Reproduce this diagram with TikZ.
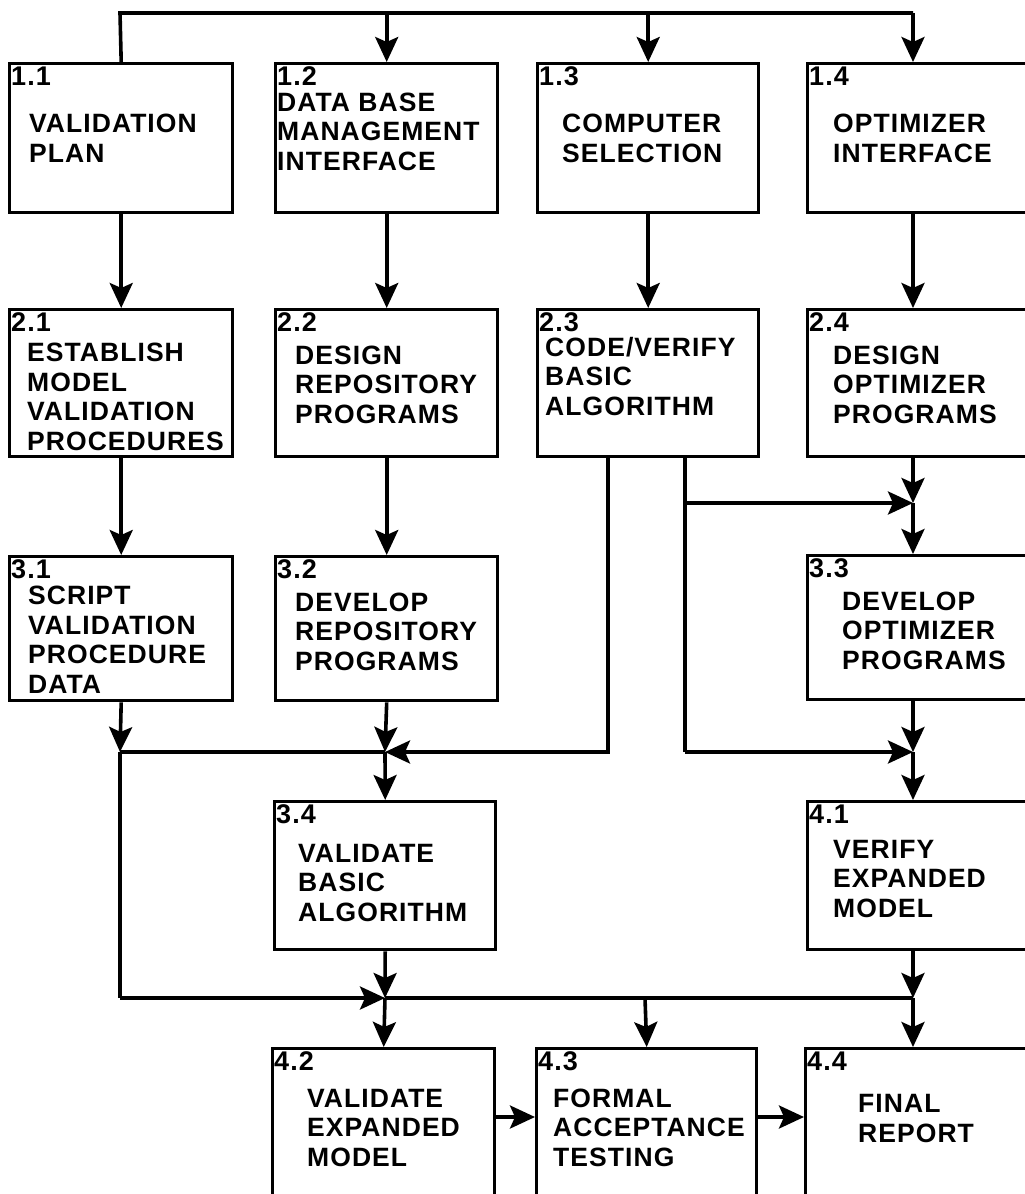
\documentclass[tikz,border=0pt]{standalone}
\usepackage{fontspec}
\setmainfont{Liberation Sans}[LetterSpace=4]
\usetikzlibrary{arrows.meta,calc}
\tikzset{
  x=1pt, y=-1pt,
  wire/.style={line width=3.6pt},
  arr/.style={wire, -{Stealth[length=25pt,width=23pt,inset=5pt]}},
  task/.style={draw, line width=3.4pt, anchor=north west, inner sep=0pt,
    minimum width=#1},
  task/.default=222pt,
  num/.style={anchor=base west, inner sep=0pt, font=\fontsize{27}{29}\selectfont\bfseries},
  % multi-line texts are placed by the baseline of their last line
  body/.style={anchor=base west, inner sep=0pt, align=left,
    font=\fontsize{26.5}{29.5}\selectfont\bfseries},
}
\begin{document}
\begin{tikzpicture}
\useasboundingbox (0,0) rectangle (1025,1194);
\clip (0,0) rectangle (1025,1194);

% ---- task boxes ----
\node[task=223pt, minimum height=149pt] (b11) at (8,62) {};
\node[task=222pt, minimum height=149pt] (b12) at (274,62) {};
\node[task=221pt, minimum height=149pt] (b13) at (536,62) {};
\node[task=240pt, minimum height=149pt] (b14) at (806,62) {};

\node[task=223pt, minimum height=147pt] (b21) at (8,308) {};
\node[task=222pt, minimum height=147pt] (b22) at (274,308) {};
\node[task=221pt, minimum height=147pt] (b23) at (536,308) {};
\node[task=240pt, minimum height=147pt] (b24) at (806,308) {};

\node[task=223pt, minimum height=144pt] (b31) at (8,555) {};
\node[task=222pt, minimum height=144pt] (b32) at (274,555) {};
\node[task=240pt, minimum height=144pt] (b33) at (806,554) {};

\node[task=221pt, minimum height=148pt] (b34) at (273,800) {};
\node[task=240pt, minimum height=148pt] (b41) at (806,800) {};

\node[task=222pt, minimum height=150pt] (b42) at (271,1047) {};
\node[task=220pt, minimum height=150pt] (b43) at (535,1047) {};
\node[task=240pt, minimum height=150pt] (b44) at (804,1047) {};

% ---- numbers ----
\foreach \b/\t in {b11/1.1,b12/1.2,b13/1.3,b14/1.4,b21/2.1,b22/2.2,b23/2.3,b24/2.4,
                   b31/3.1,b32/3.2,b33/3.3,b34/3.4,b41/4.1,b42/4.2,b43/4.3,b44/4.4}
  \node[num] (n\b) at ($(\b.north west)+(3,23)$) {\t};

% ---- texts ----
\node[body] (t11) at (29,162) {VALIDATION\\PLAN};
\node[body] (t12) at (277,170) {DATA BASE\\MANAGEMENT\\INTERFACE};
\node[body] (t13) at (562,162) {COMPUTER\\SELECTION};
\node[body] (t14) at (833,162) {OPTIMIZER\\INTERFACE};

\node[body] (t21) at (27,450) {ESTABLISH\\MODEL\\VALIDATION\\PROCEDURES};
\node[body] (t22) at (295,423) {DESIGN\\REPOSITORY\\PROGRAMS};
\node[body] (t23) at (545,415) {CODE/VERIFY\\BASIC\\ALGORITHM};
\node[body] (t24) at (833,423) {DESIGN\\OPTIMIZER\\PROGRAMS};

\node[body] (t31) at (28,693) {SCRIPT\\VALIDATION\\PROCEDURE\\DATA};
\node[body] (t32) at (295,670) {DEVELOP\\REPOSITORY\\PROGRAMS};
\node[body] (t33) at (842,669) {DEVELOP\\OPTIMIZER\\PROGRAMS};

\node[body] (t34) at (298,921) {VALIDATE\\BASIC\\ALGORITHM};
\node[body] (t41) at (833,917) {VERIFY\\EXPANDED\\MODEL};

\node[body] (t42) at (307,1166) {VALIDATE\\EXPANDED\\MODEL};
\node[body] (t43) at (553,1166) {FORMAL\\ACCEPTANCE\\TESTING};
\node[body] (t44) at (858,1142) {FINAL\\REPORT};

% ---- junction points ----
\coordinate (c4)  at (913,0);
\coordinate (top1) at (120,13);
\coordinate (top4) at (913,13);
\coordinate (ja)  at (608,455);   % 2.3 outlet to 3.4
\coordinate (jb)  at (685,455);   % 2.3 outlet to 3.3 and 4.1
\coordinate (m1)  at (120,752);
\coordinate (m2)  at (385,752);
\coordinate (m3)  at (913,503);
\coordinate (m4)  at (913,752);
\coordinate (l1)  at (120,998);
\coordinate (l2)  at (385,998);
\coordinate (l3)  at (645,998);
\coordinate (l4)  at (913,998);

% ---- top distribution bus ----
\draw[wire] (b11.north) -- (top1) -- (top4);
\draw[arr] (b12.north |- top1) -- (b12.north);
\draw[arr] (b13.north |- top1) -- (b13.north);
\draw[arr] (top4) -- (c4 |- b14.north);

% ---- row 1 to row 2 ----
\draw[arr] (b11.south) -- (b21.north);
\draw[arr] (b12.south) -- (b22.north);
\draw[arr] (b13.south) -- (b23.north);
\draw[arr] (c4 |- b14.south) -- (c4 |- b24.north);

% ---- row 2 to row 3 ----
\draw[arr] (b21.south) -- (b31.north);
\draw[arr] (b22.south) -- (b32.north);
\draw[arr] (c4 |- b24.south) -- (m3);
\draw[arr] (m3) -- (c4 |- b33.north);

% ---- outlets of 2.3 ----
\draw[wire] (jb) -- (jb |- m4);
\draw[arr] (jb |- m3) -- (m3);
\draw[arr] (jb |- m4) -- (m4);
\draw[arr] (ja) -- (ja |- m2) -- (m2);

% ---- into 3.4 and 4.1 ----
\draw[arr] (b31.south) -- (m1);
\draw[wire] (m1) -- (m2);
\draw[arr] (b32.south) -- (m2);
\draw[arr] (m2) -- (b34.north);
\draw[arr] (c4 |- b33.south) -- (m4);
\draw[arr] (m4) -- (c4 |- b41.north);

% ---- lower bus ----
\draw[wire] (m1) -- (l1);
\draw[arr] (l1) -- (l2);
\draw[wire] (l2) -- (l4);
\draw[arr] (b34.south) -- (l2);
\draw[arr] (l2) -- (b42.north);
\draw[arr] (c4 |- b41.south) -- (l4);
\draw[arr] (l4) -- (c4 |- b44.north);
\draw[arr] (l3) -- (b43.north);

% ---- final chain ----
\draw[arr] ($(b42.north east)+(0,70)$) -- ($(b43.north west)+(0,70)$);
\draw[arr] ($(b43.north east)+(0,70)$) -- ($(b44.north west)+(0,70)$);
\end{tikzpicture}
\end{document}
